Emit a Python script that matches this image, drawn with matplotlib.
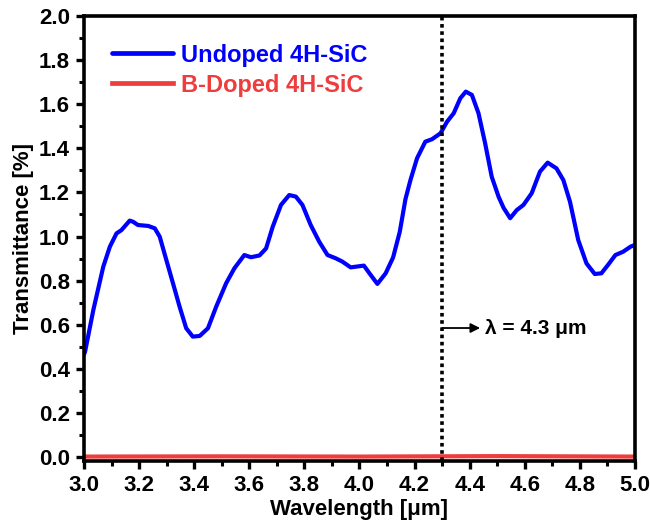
import matplotlib
matplotlib.use("Agg")
import matplotlib.pyplot as plt
from matplotlib.ticker import MultipleLocator, FormatStrFormatter

plt.rcParams['font.family'] = ['Liberation Sans', 'DejaVu Sans']
plt.rcParams['font.weight'] = 'bold'

# Undoped 4H-SiC transmittance spectrum
wl_undoped = [3.000, 3.004, 3.034, 3.070, 3.094, 3.118, 3.136, 3.166, 3.178, 3.196,
              3.233, 3.257, 3.275, 3.299, 3.323, 3.347, 3.371, 3.395, 3.420, 3.450,
              3.480, 3.516, 3.546, 3.582, 3.606, 3.637, 3.661, 3.685, 3.715, 3.745,
              3.769, 3.793, 3.823, 3.854, 3.884, 3.914, 3.938, 3.968, 4.016, 4.041,
              4.065, 4.095, 4.122, 4.146, 4.167, 4.185, 4.209, 4.239, 4.263, 4.294,
              4.318, 4.342, 4.366, 4.386, 4.408, 4.432, 4.456, 4.480, 4.505, 4.523,
              4.547, 4.571, 4.595, 4.625, 4.655, 4.683, 4.715, 4.740, 4.764, 4.794,
              4.824, 4.854, 4.878, 4.902, 4.929, 4.957, 4.984, 5.000]
tr_undoped = [0.465, 0.478, 0.667, 0.863, 0.954, 1.014, 1.029, 1.072, 1.067, 1.052,
              1.048, 1.037, 0.999, 0.893, 0.788, 0.682, 0.584, 0.546, 0.549, 0.584,
              0.682, 0.788, 0.856, 0.916, 0.906, 0.914, 0.946, 1.044, 1.143, 1.188,
              1.181, 1.143, 1.052, 0.976, 0.916, 0.901, 0.886, 0.860, 0.868, 0.825,
              0.785, 0.833, 0.905, 1.020, 1.170, 1.256, 1.355, 1.430, 1.441, 1.468,
              1.521, 1.559, 1.627, 1.657, 1.642, 1.559, 1.423, 1.271, 1.180, 1.130,
              1.083, 1.120, 1.143, 1.196, 1.294, 1.335, 1.309, 1.256, 1.158, 0.984,
              0.878, 0.830, 0.833, 0.871, 0.916, 0.931, 0.954, 0.962]

# B-doped 4H-SiC transmittance spectrum
wl_doped = [3.0, 3.5, 4.0, 4.5, 5.0]
tr_doped = [0.002, 0.003, 0.002, 0.004, 0.002]

marker_wl = 4.3
marker_y = 0.585

fig = plt.figure(figsize=(6.5, 5.28), dpi=100)
ax = fig.add_axes([0.1292, 0.1261, 0.8477, 0.8436])

ax.plot(wl_undoped, tr_undoped, color='#0000ff', lw=3.0, label='Undoped 4H-SiC',
        solid_joinstyle='round', solid_capstyle='round')
ax.plot(wl_doped, tr_doped, color='#ef3c3c', lw=3.0, label='B-Doped 4H-SiC')

ax.axvline(marker_wl, color='black', ls=(0, (1, 1)), lw=2.6)
ax.annotate('', xy=(marker_wl + 0.138, marker_y), xytext=(marker_wl, marker_y),
            arrowprops=dict(arrowstyle='-|>', color='black', lw=1.3,
                            mutation_scale=14, shrinkA=0, shrinkB=0))
ax.text(marker_wl + 0.155, marker_y, f'λ = {marker_wl} μm', fontsize=15,
        fontweight='bold', va='center', ha='left')

ax.set_xlim(3.0, 5.0)
ax.set_ylim(-0.02, 2.0)
ax.xaxis.set_major_locator(MultipleLocator(0.2))
ax.xaxis.set_minor_locator(MultipleLocator(0.1))
ax.yaxis.set_major_locator(MultipleLocator(0.2))
ax.yaxis.set_minor_locator(MultipleLocator(0.1))
ax.xaxis.set_major_formatter(FormatStrFormatter('%.1f'))
ax.yaxis.set_major_formatter(FormatStrFormatter('%.1f'))

for s in ax.spines.values():
    s.set_linewidth(2.6)
ax.tick_params(which='major', direction='out', length=6, width=2.4, labelsize=16, pad=4)
ax.tick_params(which='minor', direction='out', length=3.5, width=2.2)

ax.set_xlabel('Wavelength [μm]', fontsize=16, fontweight='bold', labelpad=2)
ax.set_ylabel('Transmittance [%]', fontsize=16, fontweight='bold', labelpad=4)

leg = ax.legend(loc='upper left', frameon=False, fontsize=17, handlelength=2.6,
                handletextpad=0.35, borderaxespad=0.3, labelspacing=0.3,
                labelcolor='linecolor', bbox_to_anchor=(0.02, 0.975))
for h in leg.get_lines():
    h.set_linewidth(3.4)

fig.savefig('out.png', dpi=100)
